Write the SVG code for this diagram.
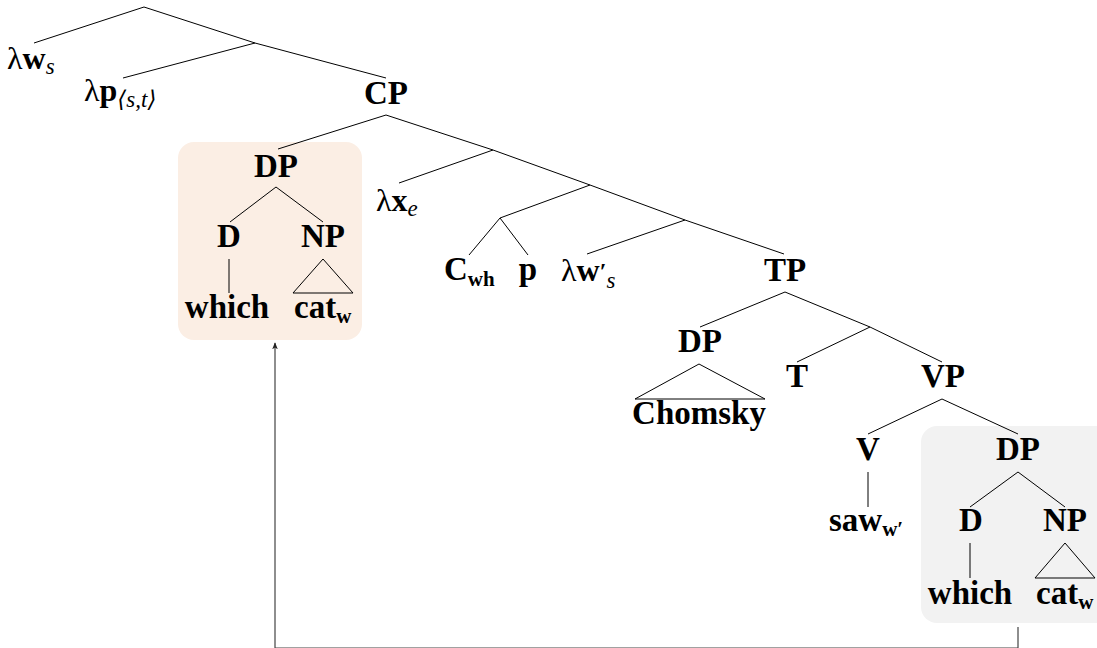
<svg xmlns="http://www.w3.org/2000/svg" width="1097" height="648" viewBox="0 0 1097 648">
  <defs>
    <style>
      .edge { stroke: #000; stroke-width: 1; fill: none; }
      .lbl { font-family: "Liberation Serif", "DejaVu Serif", serif; font-weight: bold; font-size: 33px; fill: #000; }
      .sub { font-size: 21px; }
      .lam { font-family: "Liberation Serif", "DejaVu Serif", serif; font-size: 32px; fill: #000; }
      .it { font-family: "Liberation Serif", "DejaVu Serif", serif; font-style: italic; font-weight: normal; font-size: 23px; }
      .move { stroke: #444; stroke-width: 1.2; fill: none; }
    </style>
    <marker id="tip" viewBox="0 0 10 10" refX="9" refY="5" markerWidth="7" markerHeight="9" orient="auto" markerUnits="userSpaceOnUse">
      <path d="M0,1 L10,5 L0,9 L2.5,5 Z" fill="#222"/>
    </marker>
  </defs>

  <!-- highlighted constituents -->
  <rect id="box-moved" x="178" y="142" width="184" height="198" rx="16" fill="#fbeee4"/>
  <rect id="box-base" x="921" y="426" width="190" height="197" rx="16" fill="#f2f2f2"/>

  <!-- tree branches -->
  <g id="connectors">
    <polyline class="edge" points="34,43 144,7 255,43 386,78"/>
    <line class="edge" x1="255" y1="43" x2="123" y2="78"/>
    <polyline class="edge" points="278,149 386,115 493,150 590,185 685,220 784,254"/>
    <line class="edge" x1="493" y1="150" x2="399" y2="183"/>
    <line class="edge" x1="590" y1="185" x2="500" y2="218"/>
    <polyline class="edge" points="469,255 500,218 528,255"/>
    <line class="edge" x1="685" y1="220" x2="587" y2="254"/>
    <polyline class="edge" points="700,327 785,292 870,327 942,362"/>
    <line class="edge" x1="870" y1="327" x2="797" y2="362"/>
    <polygon class="edge" points="699,364 635,399 765,399"/>
    <polyline class="edge" points="868,434 942,399 1018,434"/>
    <line class="edge" x1="868" y1="472" x2="868" y2="507"/>
    <polyline class="edge" points="970,507 1018,472 1065,507"/>
    <line class="edge" x1="970" y1="543" x2="970" y2="578"/>
    <polygon class="edge" points="1065,543 1035,578 1095,578"/>
    <polyline class="edge" points="230,222 276,187 323,222"/>
    <line class="edge" x1="229" y1="259" x2="229" y2="293"/>
    <polygon class="edge" points="323,259 293,293 353,293"/>
    <!-- movement arrow -->
    <polyline class="move" points="1018,627 1018,648 275,648 275,343" marker-end="url(#tip)"/>
  </g>

  <!-- binders -->
  <g id="n-lw">
    <text class="lam" x="7" y="69">λ<tspan font-weight="bold">w</tspan><tspan class="it" dy="5">s</tspan></text>
  </g>
  <g id="n-lp">
    <text class="lam" x="84" y="101">λ<tspan font-weight="bold">p</tspan><tspan class="it" dy="6">⟨s,t⟩</tspan></text>
  </g>
  <g id="n-cp"><text class="lbl" x="386" y="104" text-anchor="middle">CP</text></g>
  <g id="n-lx">
    <text class="lam" x="376" y="211">λ<tspan font-weight="bold">x</tspan><tspan class="it" dy="5">e</tspan></text>
  </g>
  <g id="n-cwh">
    <text class="lbl" x="444" y="280">C<tspan class="sub" dy="6">wh</tspan></text>
  </g>
  <g id="n-p"><text class="lbl" x="528" y="280" text-anchor="middle">p</text></g>
  <g id="n-lw2">
    <text class="lam" x="561" y="281">λ<tspan font-weight="bold">w</tspan><tspan font-weight="bold" font-size="24" dy="-2">′</tspan><tspan class="it" dy="9">s</tspan></text>
  </g>
  <g id="n-tp"><text class="lbl" x="785" y="281" text-anchor="middle">TP</text></g>

  <!-- moved wh-phrase -->
  <g id="n-dp-moved">
    <text class="lbl" x="276" y="177" text-anchor="middle">DP</text>
    <text class="lbl" x="229" y="247" text-anchor="middle">D</text>
    <text class="lbl" x="323" y="247" text-anchor="middle">NP</text>
    <text class="lbl" x="227" y="318" text-anchor="middle">which</text>
    <text class="lbl" x="294" y="318">cat<tspan class="sub" dy="5">w</tspan></text>
  </g>

  <g id="n-subj">
    <text class="lbl" x="700" y="352" text-anchor="middle">DP</text>
    <text class="lbl" x="699" y="424" text-anchor="middle">Chomsky</text>
  </g>
  <g id="n-t"><text class="lbl" x="797" y="387" text-anchor="middle">T</text></g>
  <g id="n-vp"><text class="lbl" x="943" y="387" text-anchor="middle">VP</text></g>
  <g id="n-v">
    <text class="lbl" x="868" y="460" text-anchor="middle">V</text>
    <text class="lbl" x="829" y="531">saw<tspan class="sub" dy="5">w′</tspan></text>
  </g>

  <!-- base-position wh-phrase -->
  <g id="n-dp-base">
    <text class="lbl" x="1018" y="460" text-anchor="middle">DP</text>
    <text class="lbl" x="971" y="531" text-anchor="middle">D</text>
    <text class="lbl" x="1065" y="531" text-anchor="middle">NP</text>
    <text class="lbl" x="970" y="604" text-anchor="middle">which</text>
    <text class="lbl" x="1036" y="604">cat<tspan class="sub" dy="5">w</tspan></text>
  </g>
</svg>
